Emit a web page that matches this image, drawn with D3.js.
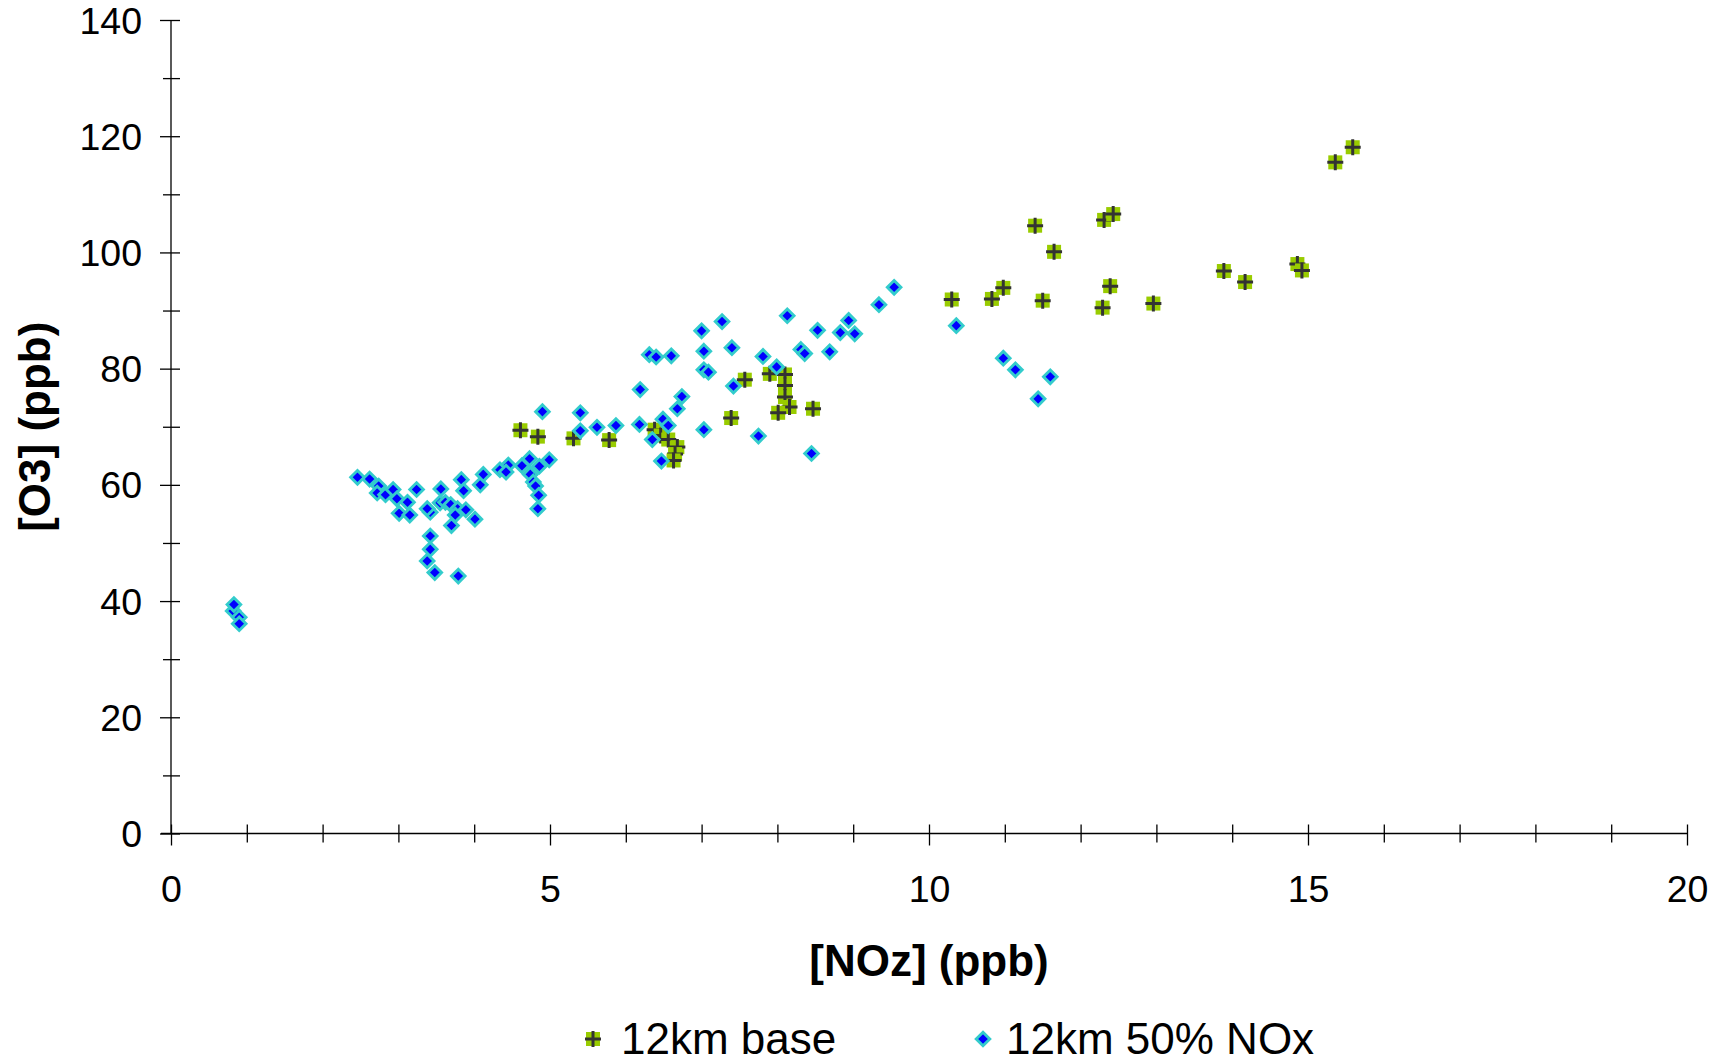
<!DOCTYPE html>
<html>
<head>
<meta charset="utf-8">
<script src="https://cdn.jsdelivr.net/npm/d3@7"></script>
<style>
  html, body { margin: 0; padding: 0; background: #fff; }
  svg { display: block; }
  text { font-family: "Liberation Sans", Arial, sans-serif; fill: #000; }
</style>
</head>
<body>
<svg id="chart" width="1719" height="1064"></svg>
<script>
// ---- Data ----
const seriesNames = ["12km base", "12km 50% NOx"];

const baseNOz = [4.61, 4.84, 5.31, 5.78, 6.38, 6.46, 6.56, 6.68, 6.65, 6.63,
  7.39, 7.57, 7.90, 8.10, 8.10, 8.10, 8.16, 8.01, 8.47,
  10.30, 10.83, 10.98, 11.40, 11.65, 11.50, 12.31, 12.43, 12.39, 12.29, 12.96,
  13.89, 14.17, 14.86, 14.92, 15.36, 15.59];
const baseO3 = [69.4, 68.3, 68.0, 67.7, 69.5, 68.5, 67.8, 66.5, 65.3, 64.2,
  71.5, 78.1, 79.1, 79.0, 77.1, 75.1, 73.4, 72.4, 73.1,
  91.9, 92.0, 93.9, 104.6, 100.1, 91.7, 105.6, 106.6, 94.2, 90.5, 91.2,
  96.8, 94.9, 98.0, 96.9, 115.5, 118.1];

const noxNOz = [0.82, 0.83, 0.90, 0.90,
  2.46, 2.62, 2.74, 2.72, 2.83, 2.93, 2.98, 3.12, 3.01, 3.15, 3.24, 3.56, 3.42, 3.38,
  3.55, 3.62, 3.69, 3.78, 3.75, 3.70, 3.89, 4.01, 3.83, 3.86, 4.08, 4.12,
  3.42, 3.42, 3.38, 3.48, 3.79,
  4.34, 4.45, 4.42, 4.63, 4.73, 4.86, 4.99, 4.74, 4.78, 4.81, 4.85, 4.84,
  4.90, 5.40, 5.40, 5.62, 5.87, 6.18, 6.49, 6.56, 7.03, 6.35, 6.47, 7.75, 8.45,
  6.19, 6.74, 6.68, 7.42, 7.03, 7.09, 7.99,
  6.31, 6.40, 6.60, 7.03, 7.40, 7.81, 8.31, 8.36, 8.69,
  7.00, 7.27, 8.13, 8.53, 8.94, 8.83, 9.02, 9.34, 9.54,
  10.36, 10.98, 11.14, 11.60, 11.44];
const noxO3 = [38.3, 39.4, 37.2, 36.1,
  61.3, 61.0, 59.8, 58.6, 58.3, 59.2, 57.6, 57.0, 55.1, 54.8, 59.2, 59.3, 55.3, 55.9,
  56.9, 57.0, 56.6, 55.9, 54.8, 53.0, 55.7, 54.1, 60.9, 59.0, 60.0, 61.8,
  51.2, 48.9, 46.9, 44.9, 44.3,
  62.6, 63.4, 62.2, 63.3, 64.5, 63.2, 64.3, 61.8, 60.5, 59.8, 58.2, 55.9,
  72.6, 72.4, 69.3, 69.9, 70.2, 70.4, 71.3, 70.2, 69.5, 67.8, 64.1, 68.4, 65.4,
  76.4, 75.2, 73.1, 77.0, 79.8, 79.4, 80.3,
  82.4, 82.0, 82.2, 83.0, 83.6, 82.1, 83.3, 82.6, 82.9,
  86.5, 88.1, 89.1, 86.6, 88.3, 86.2, 86.0, 91.0, 94.0,
  87.4, 81.8, 79.8, 78.6, 74.8];

const xTicks = [0, 5, 10, 15, 20];
const yTicks = [0, 20, 40, 60, 80, 100, 120, 140];
const xTitle = "[NOz] (ppb)";
const yTitle = "[O3] (ppb)";

// ---- Layout ----
const svg = d3.select("#chart");
const plotLeft = 171, plotRight = 1687, plotTop = 20, plotBottom = 833.5;

const x = d3.scaleLinear().domain([0, 20]).range([plotLeft, plotRight]);
const y = d3.scaleLinear().domain([0, 140]).range([plotBottom, plotTop]);

// X axis (minor every 1, major every 5)
const xAxis = svg.append("g").attr("transform", `translate(0,${plotBottom})`)
  .call(d3.axisBottom(x).tickValues(d3.range(0, 21, 1))
    .tickFormat(d => xTicks.includes(d) ? String(d) : "")
    .tickSizeOuter(0));
xAxis.select(".domain").attr("stroke", "#000").attr("stroke-width", 1.3)
  .attr("d", `M${plotLeft - 10},0H${plotRight}`);
xAxis.selectAll(".tick line")
  .attr("stroke", "#000").attr("stroke-width", 1.3)
  .attr("y1", -9).attr("y2", d => xTicks.includes(d) ? 12 : 9);
xAxis.selectAll(".tick text")
  .attr("y", 68).attr("dy", 0)
  .style("font-size", "37.5px").style("font-family", "Liberation Sans, Arial, sans-serif");

// Y axis (minor every 10, major every 20)
const yAxis = svg.append("g").attr("transform", `translate(${plotLeft},0)`)
  .call(d3.axisLeft(y).tickValues(d3.range(0, 141, 10))
    .tickFormat(d => yTicks.includes(d) ? String(d) : "")
    .tickSizeOuter(0));
yAxis.select(".domain").attr("stroke", "#000").attr("stroke-width", 1.3)
  .attr("d", `M0,${plotBottom}V${plotTop}`);
yAxis.selectAll(".tick line")
  .attr("stroke", "#000").attr("stroke-width", 1.3)
  .attr("x1", 9).attr("x2", d => yTicks.includes(d) ? -11 : -8);
yAxis.selectAll(".tick text")
  .attr("x", -29).attr("dy", "0.35em")
  .style("font-size", "37.5px").style("font-family", "Liberation Sans, Arial, sans-serif");

// Axis titles
svg.append("text")
  .attr("x", (plotLeft + plotRight) / 2).attr("y", 976)
  .attr("text-anchor", "middle")
  .style("font-size", "44px").style("font-weight", "bold")
  .text(xTitle);
svg.append("text")
  .attr("transform", `translate(50,${(plotTop + plotBottom) / 2}) rotate(-90)`)
  .attr("text-anchor", "middle")
  .style("font-size", "44px").style("font-weight", "bold")
  .text(yTitle);

// Marker drawers
function drawBase(g) {
  g.append("rect").attr("x", -7).attr("y", -7).attr("width", 14).attr("height", 14)
    .attr("fill", "#99cc00");
  g.append("path").attr("d", "M-8,0H8M0,-8V8")
    .attr("stroke", "#333333").attr("stroke-width", 3).attr("fill", "none");
}
function drawNox(g) {
  g.append("path").attr("d", "M0,-6.8L6.8,0L0,6.8L-6.8,0Z")
    .attr("fill", "#0000ff").attr("stroke", "#33cccc").attr("stroke-width", 2.9);
}

const baseData = baseNOz.map((v, i) => ({ x: v, y: baseO3[i] }));
const noxData = noxNOz.map((v, i) => ({ x: v, y: noxO3[i] }));

svg.append("g").selectAll("g").data(baseData).join("g")
  .attr("transform", d => `translate(${x(d.x)},${y(d.y)})`)
  .each(function () { drawBase(d3.select(this)); });

svg.append("g").selectAll("g").data(noxData).join("g")
  .attr("transform", d => `translate(${x(d.x)},${y(d.y)})`)
  .each(function () { drawNox(d3.select(this)); });

// Legend
const legend = svg.append("g");
const l1 = legend.append("g").attr("transform", "translate(593,1039)");
drawBase(l1);
legend.append("text").attr("x", 621).attr("y", 1054)
  .style("font-size", "44px").text(seriesNames[0]);
const l2 = legend.append("g").attr("transform", "translate(983,1039)");
drawNox(l2);
legend.append("text").attr("x", 1006).attr("y", 1054)
  .style("font-size", "44px").text(seriesNames[1]);
</script>
</body>
</html>
